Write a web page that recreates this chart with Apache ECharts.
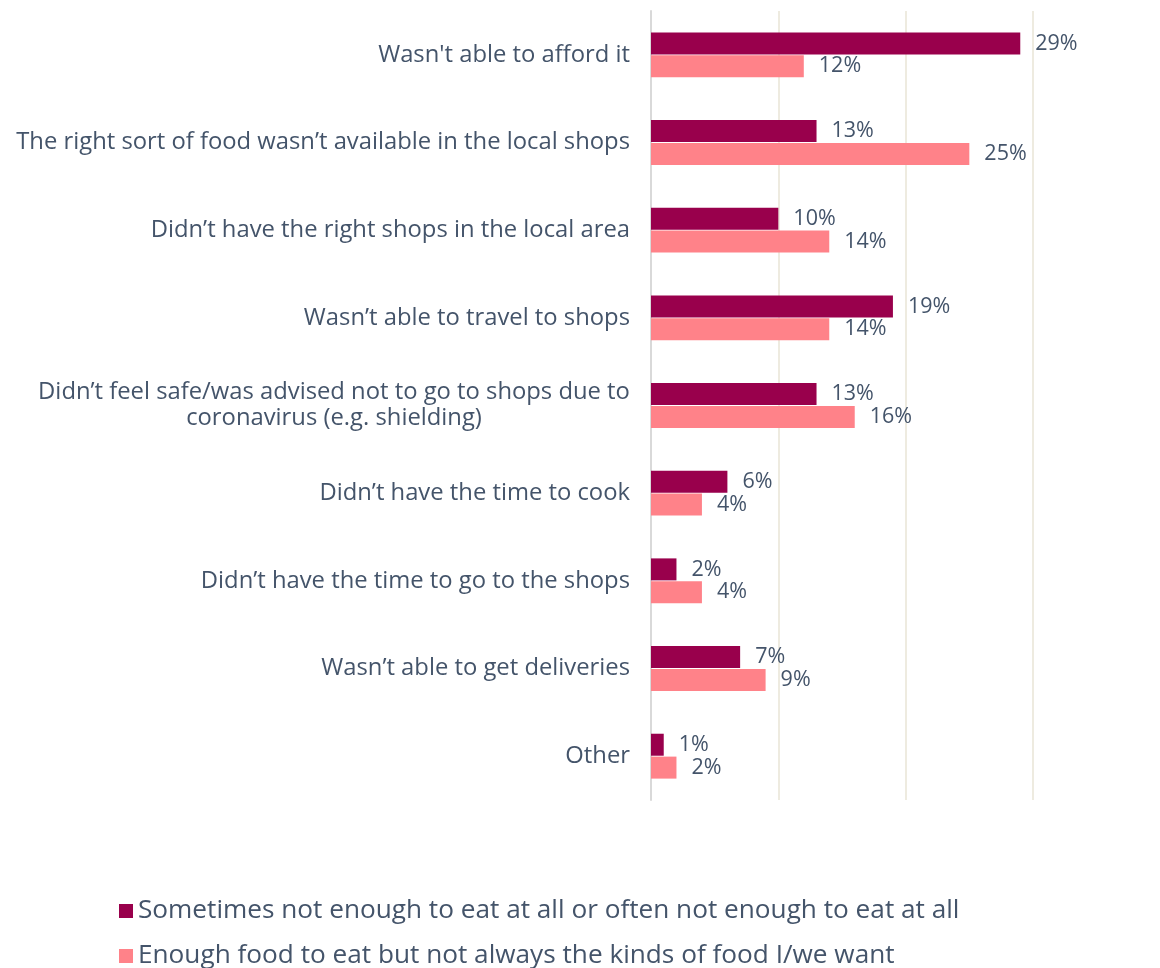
<!DOCTYPE html>
<html>
<head>
<meta charset="utf-8">
<script src="https://cdn.jsdelivr.net/npm/echarts@6/dist/echarts.min.js"></script>
<style>
  html, body { margin: 0; padding: 0; background: #fff; }
  #chart { width: 1160px; height: 968px; }
</style>
</head>
<body>
<div id="chart"></div>
<script>
// categories, top to bottom
var categories = [
  "Wasn't able to afford it",
  'The right sort of food wasn\u2019t available in the local shops',
  'Didn\u2019t have the right shops in the local area',
  'Wasn\u2019t able to travel to shops',
  'Didn\u2019t feel safe/was advised not to go to shops due to\ncoronavirus (e.g. shielding)',
  'Didn\u2019t have the time to cook',
  'Didn\u2019t have the time to go to the shops',
  'Wasn\u2019t able to get deliveries',
  'Other'
]
var seriesNames = [
  'Sometimes not enough to eat at all or often not enough to eat at all',
  'Enough food to eat but not always the kinds of food I/we want'
]
var notEnough = [29, 13, 10, 19, 13, 6, 2, 7, 1]
var notRightKind = [12, 25, 14, 14, 16, 4, 4, 9, 2]
var xTicks = [0, 10, 20, 30]

var textColor = '#44546A'
var font = 'Open Sans'

var chart = echarts.init(document.getElementById('chart'))

// 数值标签
function barLabel() {
  return {
    show: true,
    position: 'right',
    distance: 15,
    color: textColor,
    fontFamily: font,
    fontSize: 21.5,
    formatter: '{c}%'
  }
}

chart.setOption({
  animation: false,
  textStyle: { fontFamily: font },
  legend: {
    orient: 'vertical',
    left: 114,
    top: 892,
    height: 80,
    itemWidth: 14,
    itemHeight: 14,
    itemGap: 17,
    icon: 'rect',
    textStyle: { color: textColor, fontSize: 26.2, lineHeight: 28, fontFamily: font },
    data: seriesNames
  },
  grid: {
    left: 651,
    right: 127,
    top: 11,
    bottom: 168
  },
  xAxis: {
    type: 'value',
    min: xTicks[0],
    max: xTicks[xTicks.length - 1],
    interval: 10,
    axisLabel: { show: false },
    axisLine: { show: false },
    axisTick: { show: false },
    splitLine: { lineStyle: { color: '#EEEBE0', width: 2 } }
  },
  yAxis: {
    type: 'category',
    inverse: true,
    data: categories,
    axisLine: { show: true, lineStyle: { color: '#D9D9D9', width: 2 } },
    axisTick: { show: false },
    axisLabel: {
      margin: 21,
      color: textColor,
      fontFamily: font,
      fontSize: 23.8,
      lineHeight: 26,
      formatter: function (v) {
        if (v.indexOf('\n') < 0) return v
        return v.split('\n').map(function (l) { return '{c|' + l + '}' }).join('\n')
      },
      rich: {
        c: { width: 592, align: 'center', color: textColor, fontFamily: font, fontSize: 23.8, lineHeight: 26 }
      }
    }
  },
  series: [
    {
      name: seriesNames[0],
      type: 'bar',
      data: notEnough,
      barWidth: 22,
      barGap: '4%',
      itemStyle: { color: '#99004C' },
      label: barLabel()
    },
    {
      name: seriesNames[1],
      type: 'bar',
      data: notRightKind,
      barWidth: 22,
      itemStyle: { color: '#FF8289' },
      label: barLabel()
    }
  ]
})
</script>
</body>
</html>
